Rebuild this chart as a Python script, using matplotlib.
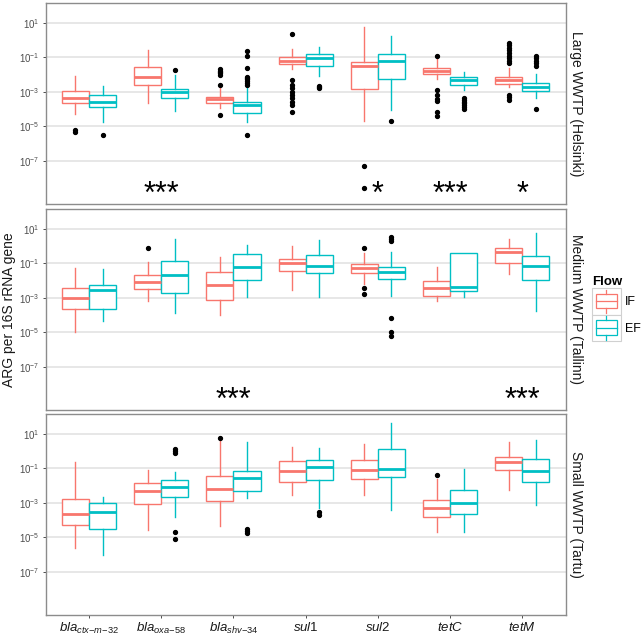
import numpy as np
import matplotlib
matplotlib.use("Agg")
import matplotlib.pyplot as plt
from matplotlib.patches import Rectangle, Patch
from matplotlib.lines import Line2D
from matplotlib.legend_handler import HandlerBase

plt.rcParams['font.family'] = ['Liberation Sans', 'DejaVu Sans']
plt.rcParams['mathtext.fontset'] = 'custom'
plt.rcParams['mathtext.rm'] = 'Liberation Sans'
plt.rcParams['mathtext.it'] = 'Liberation Sans:italic'

genes = [r'$bla_{ctx{-}m{-}32}$', r'$bla_{oxa{-}58}$', r'$bla_{shv{-}34}$',
         r'$sul$1', r'$sul$2', r'$tetC$', r'$tetM$']
sites = ['Large WWTP (Helsinki)', 'Medium WWTP (Tallinn)', 'Small WWTP (Tartu)']
flows = ['IF', 'EF']
flow_colors = ['#F8766D', '#00BFC4']

# log10 values: (lower whisker, Q1, median, Q3, upper whisker) per gene
helsinki_if = [(-4.31, -3.65, -3.35, -2.96, -2.08), (-3.65, -2.62, -2.15, -1.58, -0.58),
               (-3.96, -3.65, -3.42, -3.27, -2.75), (-1.69, -1.40, -1.19, -0.96, -0.54),
               (-4.67, -2.85, -1.48, -1.29, 0.77), (-2.27, -1.98, -1.79, -1.63, -1.12),
               (-2.73, -2.52, -2.31, -2.12, -1.62)]
helsinki_ef = [(-4.77, -3.88, -3.58, -3.21, -2.65), (-4.12, -3.38, -3.00, -2.81, -2.02),
               (-4.73, -4.21, -3.77, -3.60, -2.73), (-2.08, -1.50, -1.02, -0.83, -0.40),
               (-4.08, -2.25, -1.19, -0.81, 0.23), (-2.88, -2.60, -2.31, -2.15, -1.85),
               (-3.37, -2.96, -2.73, -2.50, -1.96)]
tallinn_if = [(-4.97, -3.65, -3.01, -2.41, -1.29), (-3.17, -2.47, -2.06, -1.69, -0.90),
              (-4.02, -3.15, -2.24, -1.50, -0.61), (-2.57, -1.46, -1.00, -0.72, -0.01),
              (-2.20, -1.58, -1.29, -1.05, -0.41), (-3.19, -2.88, -2.41, -2.02, -1.21),
              (-1.62, -1.00, -0.32, -0.09, 0.40)]
tallinn_ef = [(-4.33, -3.65, -2.57, -2.28, -1.33), (-3.90, -2.72, -1.66, -0.84, 0.40),
              (-2.93, -1.95, -1.19, -0.47, 0.07), (-2.95, -1.58, -1.13, -0.53, 0.36),
              (-2.88, -1.89, -1.48, -1.19, -0.32), (-2.93, -2.60, -2.39, -0.38, -0.38),
              (-3.77, -1.98, -1.13, -0.59, 0.75)]
tartu_if = [(-5.59, -4.30, -3.66, -2.76, -0.62), (-4.59, -3.08, -2.31, -1.87, -1.12),
            (-4.36, -2.91, -2.20, -1.45, 0.71), (-2.56, -1.79, -1.18, -0.60, 0.25),
            (-2.53, -1.62, -1.12, -0.52, 0.44), (-4.68, -3.82, -3.30, -2.85, -1.62),
            (-2.26, -1.12, -0.62, -0.35, 0.52)]
tartu_ef = [(-6.01, -4.51, -3.51, -3.03, -2.66), (-3.82, -2.64, -2.10, -1.66, -1.24),
            (-2.72, -2.31, -1.58, -1.14, 0.54), (-3.30, -1.68, -0.91, -0.54, 0.17),
            (-3.39, -1.50, -1.02, 0.13, 1.62), (-4.70, -3.64, -3.03, -2.24, -1.02),
            (-3.10, -1.79, -1.16, -0.46, 0.63)]

# outliers (log10)
helsinki_if_out = [[-5.19, -5.31], [],
                   [-1.69, -1.77, -1.85, -1.93, -2.02, -2.60, -4.33],
                   [0.33, -2.31, -2.60, -2.79, -2.98, -3.17, -3.37, -3.56, -3.75, -4.17],
                   [-7.27, -8.56],
                   [-0.92, -2.92, -3.20, -3.40, -3.55, -4.15, -4.40],
                   [-0.15, -0.30, -0.45, -0.60, -0.75, -0.90, -1.05, -1.20, -1.35, -3.17, -3.31, -3.46]]
helsinki_ef_out = [[-5.52], [-1.71],
                   [-0.63, -0.90, -1.63, -2.12, -2.20, -2.27, -2.38, -2.50, -2.60, -5.48],
                   [-2.65, -2.72, -2.80], [-4.67],
                   [-3.37, -3.47, -3.57, -3.67, -3.77, -3.87, -3.97],
                   [-0.92, -1.06, -1.19, -1.35, -1.50, -4.00]]
tallinn_if_out = [[], [-0.10], [], [], [-0.10, -2.45, -2.78], [], []]
tallinn_ef_out = [[], [], [], [], [0.52, 0.40, 0.28, -4.16, -4.97, -5.22], [], []]
tartu_if_out = [[], [], [0.75], [], [], [-1.41], []]
tartu_ef_out = [[], [0.13, 0.02, -0.12, -4.70, -5.07], [-4.49, -4.61, -4.74],
                [-3.55, -3.68], [], [], []]

helsinki_sig = ['', '***', '', '', '*', '***', '*']
tallinn_sig = ['', '', '***', '', '', '', '***']
tartu_sig = ['', '', '', '', '', '', '']

panels = [(helsinki_if, helsinki_ef, helsinki_if_out, helsinki_ef_out, helsinki_sig),
          (tallinn_if, tallinn_ef, tallinn_if_out, tallinn_ef_out, tallinn_sig),
          (tartu_if, tartu_ef, tartu_if_out, tartu_ef_out, tartu_sig)]


def make_stats(rows, outs):
    stats = []
    for r, o in zip(rows, outs):
        stats.append(dict(whislo=10 ** r[0], q1=10 ** r[1], med=10 ** r[2],
                          q3=10 ** r[3], whishi=10 ** r[4], fliers=10 ** np.array(o)))
    return stats


class BoxKey(HandlerBase):
    def create_artists(self, legend, orig_handle, xdescent, ydescent,
                       width, height, fontsize, trans):
        c = orig_handle.get_edgecolor()
        x0, y0 = -xdescent, -ydescent
        frame = Rectangle((x0, y0), width, height, fc='white', ec='#d0d0d0',
                          lw=0.8, transform=trans)
        box = Rectangle((x0 + 0.14 * width, y0 + 0.24 * height), 0.72 * width,
                        0.54 * height, fc='white', ec=c, lw=0.9, transform=trans)
        med = Line2D([x0 + 0.14 * width, x0 + 0.86 * width],
                     [y0 + 0.5 * height] * 2, color=c, lw=0.9, transform=trans)
        w1 = Line2D([x0 + 0.5 * width] * 2, [y0 + 0.78 * height, y0 + 0.94 * height],
                    color=c, lw=0.9, transform=trans)
        w2 = Line2D([x0 + 0.5 * width] * 2, [y0 + 0.06 * height, y0 + 0.24 * height],
                    color=c, lw=0.9, transform=trans)
        return [frame, box, med, w1, w2]


fig = plt.figure(figsize=(6.42, 6.37), dpi=100)
W, H = 642, 637
x = np.arange(1, len(genes) + 1)
tops = [3, 209, 414]
ph = 201

for i, (rows_if, rows_ef, out_if, out_ef, sig) in enumerate(panels):
    ax = fig.add_axes([45.7 / W, 1 - (tops[i] + ph) / H, 520 / W, ph / H])
    for j, (rows, outs) in enumerate([(rows_if, out_if), (rows_ef, out_ef)]):
        col = flow_colors[j]
        off = -0.1875 if j == 0 else 0.1875
        ax.bxp(make_stats(rows, outs), positions=x + off, widths=0.375,
               patch_artist=True, showcaps=False,
               boxprops=dict(facecolor='white', edgecolor=col, linewidth=1.0),
               medianprops=dict(color=col, linewidth=2.0),
               whiskerprops=dict(color=col, linewidth=1.0),
               flierprops=dict(marker='o', markerfacecolor='black',
                               markeredgecolor='black', markersize=2.8))
    for k, s in enumerate(sig):
        if s:
            ax.text(x[k], 10 ** -9.42, s, ha='center', va='baseline', fontsize=22)

    ax.set_yscale('log')
    ax.set_xlim(0.4, 7.6)
    ax.set_ylim(10 ** -9.5, 10 ** 2.15)
    ax.set_yticks([1e1, 1e-1, 1e-3, 1e-5, 1e-7])
    ax.yaxis.set_minor_locator(matplotlib.ticker.NullLocator())
    ax.yaxis.grid(True, color='#e5e5e5', linewidth=1.3)
    ax.set_axisbelow(True)
    ax.tick_params(axis='y', labelsize=7, labelcolor='#4d4d4d', length=2.5,
                   width=0.7, color='#4d4d4d', pad=2)
    ax.set_xticks(x)
    if i == 2:
        ax.set_xticklabels(genes, fontsize=9.5, color='#1a1a1a')
        ax.tick_params(axis='x', length=2.5, width=0.7, color='#4d4d4d', pad=2)
    else:
        ax.set_xticklabels([])
        ax.tick_params(axis='x', length=0)
    for sp in ax.spines.values():
        sp.set_color('#8c8c8c')
        sp.set_linewidth(1.0)
    ax.text(1.006, 0.5, sites[i], rotation=-90, transform=ax.transAxes,
            ha='left', va='center', fontsize=10, color='#1a1a1a')

fig.text(9 / W, 1 - 309.5 / H, 'ARG per 16S rRNA gene', rotation=90,
         ha='center', va='center', fontsize=10, color='#1a1a1a')

handles = [Patch(facecolor='white', edgecolor=c) for c in flow_colors]
fig.legend(handles=handles, labels=flows, handler_map={Patch: BoxKey()},
           title='Flow', title_fontproperties={'weight': 'bold', 'size': 9.5},
           alignment='left', loc='upper left', bbox_to_anchor=(592 / W, 1 - 276 / H),
           frameon=False, fontsize=9, handlelength=2.3, handleheight=2.9,
           labelspacing=0, handletextpad=0.3, borderpad=0, borderaxespad=0)

fig.savefig('out.png', dpi=100)
